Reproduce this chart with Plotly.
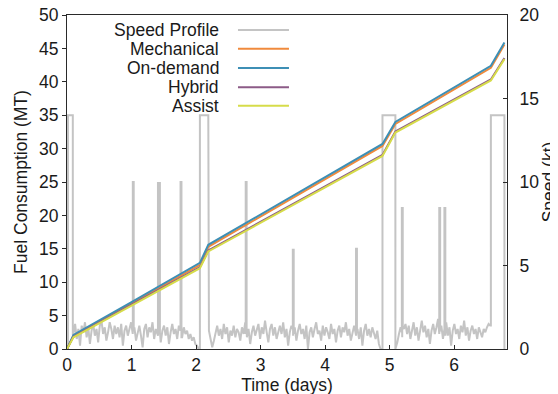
import numpy as np
import plotly.graph_objects as go

# ---------------- data ----------------
# Fuel consumption (MT) vs time (days)
FUEL_T = [0.0, 0.10, 1.0, 1.76, 2.06, 2.19, 3.0, 4.0, 4.89, 5.09, 6.0, 6.57, 6.78]
MECHANICAL = [0.0, 2.0, 6.8, 11.0, 12.6, 15.3, 19.8, 25.4, 30.4, 33.7, 38.8, 42.1, 45.6]
ON_DEMAND = [0.0, 2.1, 7.0, 11.3, 12.9, 15.6, 20.1, 25.7, 30.7, 34.0, 39.1, 42.4, 45.9]
HYBRID = [0.0, 1.85, 6.65, 10.75, 12.25, 14.75, 19.05, 24.35, 29.05, 32.55, 37.35, 40.35, 43.55]
ASSIST = [0.0, 1.75, 6.5, 10.6, 12.1, 14.6, 18.9, 24.2, 28.9, 32.4, 37.2, 40.2, 43.4]

# Speed profile (kt): slow-steaming noise segments (start day, end day, values)
NOISE_1_SPAN = (0.10, 2.04)
NOISE_1 = [0.9, 1.5, 0.6, 1.2, 0.2, 1.4, 1.0, 1.6, 0.7, 1.3,
           0.3, 1.1, 1.5, 0.8, 1.2, 0.4, 1.4, 1.7, 0.9, 1.3,
           0.5, 1.0, 1.6, 1.2, 0.6, 1.4, 0.9, 1.3, 0.7, 1.5,
           0.2, 1.1, 1.4, 0.8, 1.2, 1.6, 0.9, 1.3, 0.5, 1.0,
           1.4, 0.8, 0.1, 1.2, 1.5, 0.7, 1.3, 1.0, 1.6, 0.6,
           1.2, 0.9, 1.5, 0.4, 1.1, 1.4, 0.8, 1.3, 0.3, 1.0,
           1.5, 0.9, 1.2, 0.6, 1.4, 1.1, 0.7, 1.3, 0.9, 1.1,
           0.6, 0.9, 0.5, 0.7, 0.3, 0.2, 0.0]
NOISE_2_SPAN = (2.20, 4.86)
NOISE_2 = [1.1, 0.6, 0.1, 0.5, 1.0, 1.4, 0.8, 1.2, 0.6, 1.5,
           0.9, 1.3, 0.4, 1.1, 0.8, 1.4, 0.7, 1.2, 1.0, 0.5,
           1.3, 0.9, 1.6, 0.7, 1.2, 0.3, 1.0, 1.4, 0.8, 1.1,
           1.5, 0.6, 1.3, 0.9, 1.7, 1.0, 0.4, 1.2, 1.5, 0.8,
           1.3, 0.6, 1.1, 1.4, 0.9, 1.6, 0.7, 1.2, 0.2, 1.0,
           1.4, 0.8, 1.3, 0.5, 1.1, 1.5, 0.9, 1.2, 0.6, 1.4,
           0.0, 1.0, 1.3, 0.7, 1.2, 1.6, 0.9, 1.1, 0.5, 1.4,
           0.8, 1.3, 1.0, 0.6, 1.5, 0.9, 1.2, 0.4, 1.1, 1.4,
           0.7, 1.3, 1.0, 1.6, 0.8, 1.2, 0.5, 1.0, 1.4, 0.9,
           1.2, 0.6, 1.3, 0.2, 1.1, 1.5, 0.8, 1.2, 0.7, 1.3,
           1.0, 0.6, 1.1, 0.3, 0.0]
NOISE_3_SPAN = (5.12, 6.56)
NOISE_3 = [0.4, 0.9, 1.3, 0.7, 1.2, 1.5, 0.9, 1.4, 0.6, 1.1,
           1.6, 0.8, 1.3, 0.5, 1.2, 1.7, 1.0, 1.4, 0.7, 1.2,
           0.3, 1.1, 1.5, 0.9, 1.3, 1.8, 1.0, 1.4, 0.6, 1.2,
           1.6, 0.8, 1.3, 0.2, 1.1, 1.5, 0.9, 1.2, 0.6, 1.4,
           1.0, 1.7, 0.8, 1.3, 0.5, 1.1, 1.4, 0.9, 1.2, 0.6,
           1.3, 1.0, 0.7, 1.2, 1.0, 1.3, 1.5, 1.4]

# Short speed-ups (start day, end day, kt, speed before, speed after)
SPIKE_START = [1.02, 1.41, 1.76, 2.77, 3.50, 4.48, 5.19, 5.77, 5.85]
SPIKE_END = [1.034, 1.44, 1.774, 2.784, 3.514, 4.494, 5.204, 5.784, 5.864]
SPIKE_KT = [10, 10, 10, 10, 6, 6, 8.5, 8.5, 8.5]
SPIKE_BEFORE = [1.0, 0.8, 1.1, 0.9, 1.2, 0.8, 1.0, 0.9, 1.2]
SPIKE_AFTER = [1.2, 1.0, 0.7, 1.1, 0.9, 1.1, 1.3, 1.1, 0.8]

# Full-speed legs: (start day, end day, kt, speed before, speed after)
LEG_START = [0.015, 2.06, 4.89, 6.57]
LEG_END = [0.09, 2.19, 5.09, 6.78]
LEG_KT = [14, 14, 14, 14]
LEG_BEFORE = [0.0, 0.0, 0.0, 1.4]
LEG_AFTER = [0.8, 1.6, 0.0, 0.0]

SERIES_NAMES = ["Speed Profile", "Mechanical", "On-demand", "Hybrid", "Assist"]
COLORS = ["#c4c4c4", "#f08a3c", "#3d8fb5", "#8c5b87", "#d6dc4a"]

X_TICKS = [0, 1, 2, 3, 4, 5, 6]
FUEL_TICKS = [0, 5, 10, 15, 20, 25, 30, 35, 40, 45, 50]
SPEED_TICKS = [0, 5, 10, 15, 20]

# ---------------- build speed profile ----------------
pts = [(0.0, 0.0)]
for (a, b), vals in [(NOISE_1_SPAN, NOISE_1), (NOISE_2_SPAN, NOISE_2), (NOISE_3_SPAN, NOISE_3)]:
    for t, v in zip(np.linspace(a, b, len(vals)), vals):
        pts.append((float(t), v))
for a, b, h, pre, post in zip(SPIKE_START, SPIKE_END, SPIKE_KT, SPIKE_BEFORE, SPIKE_AFTER):
    pts += [(a, pre), (a, h), (b, h), (b, post)]
for a, b, h, pre, post in zip(LEG_START, LEG_END, LEG_KT, LEG_BEFORE, LEG_AFTER):
    pts += [(a, pre), (a, h), (b, h), (b, post)]
pts = sorted(pts, key=lambda p: p[0])
speed_t = [p[0] for p in pts]
speed_v = [p[1] for p in pts]

FONT = "Liberation Sans, Arial, Helvetica, sans-serif"
TXT = "#1a1a1a"
AX = "#2a2a2a"
FS = 17.5

fig = go.Figure()
fig.add_trace(go.Scatter(x=speed_t, y=speed_v, mode="lines", name=SERIES_NAMES[0],
                         line=dict(color=COLORS[0], width=2), yaxis="y", showlegend=False))
for name, vals, col in zip(SERIES_NAMES[1:], [MECHANICAL, ON_DEMAND, HYBRID, ASSIST], COLORS[1:]):
    fig.add_trace(go.Scatter(x=FUEL_T, y=vals, mode="lines", name=name,
                             line=dict(color=col, width=2), yaxis="y2", showlegend=False))

# manual legend: right-aligned text with line sample on the right
leg_y = [0.955, 0.899, 0.841, 0.784, 0.728]
for name, col, yy in zip(SERIES_NAMES, COLORS, leg_y):
    fig.add_annotation(x=0.350, y=yy, xref="paper", yref="paper", text=name, showarrow=False,
                       xanchor="right", yanchor="middle", font=dict(family=FONT, size=FS, color=TXT))
    fig.add_shape(type="line", xref="paper", yref="paper", x0=0.3886, x1=0.5045, y0=yy, y1=yy,
                  line=dict(color=col, width=2))

# page body has an 8px margin: plot area 67..507 x 15..349 in the window
fig.update_layout(
    width=558, height=394,
    margin=dict(l=59, r=59, t=7, b=53),
    paper_bgcolor="white", plot_bgcolor="white",
    template="none",
    showlegend=False,
    font=dict(family=FONT, size=FS, color=TXT),
    xaxis=dict(range=[0, 6.82], tickvals=X_TICKS, ticks="inside", ticklen=4, tickcolor=AX,
               showline=True, linecolor=AX, linewidth=1, mirror=True, showgrid=False, zeroline=False,
               automargin=False, ticklabeloverflow="allow",
               title=dict(text="Time (days)", standoff=2, font=dict(size=FS))),
    yaxis=dict(range=[0, 20], tickvals=SPEED_TICKS, side="right", ticks="inside", ticklen=4,
               tickcolor=AX, showline=True, linecolor=AX, linewidth=1, showgrid=False, zeroline=False,
               automargin=False, ticklabelstandoff=8, ticklabeloverflow="allow",
               title=dict(text="Speed (kt)", standoff=4, font=dict(size=FS))),
    yaxis2=dict(range=[0, 50], tickvals=FUEL_TICKS, side="left", overlaying="y", ticks="outside",
                ticklen=4, tickcolor=AX, showline=True, linecolor=AX, linewidth=1, showgrid=False,
                zeroline=False, automargin=False, ticklabeloverflow="allow",
                title=dict(text="Fuel Consumption (MT)", standoff=6, font=dict(size=FS))),
)

fig.write_html("out.html")
